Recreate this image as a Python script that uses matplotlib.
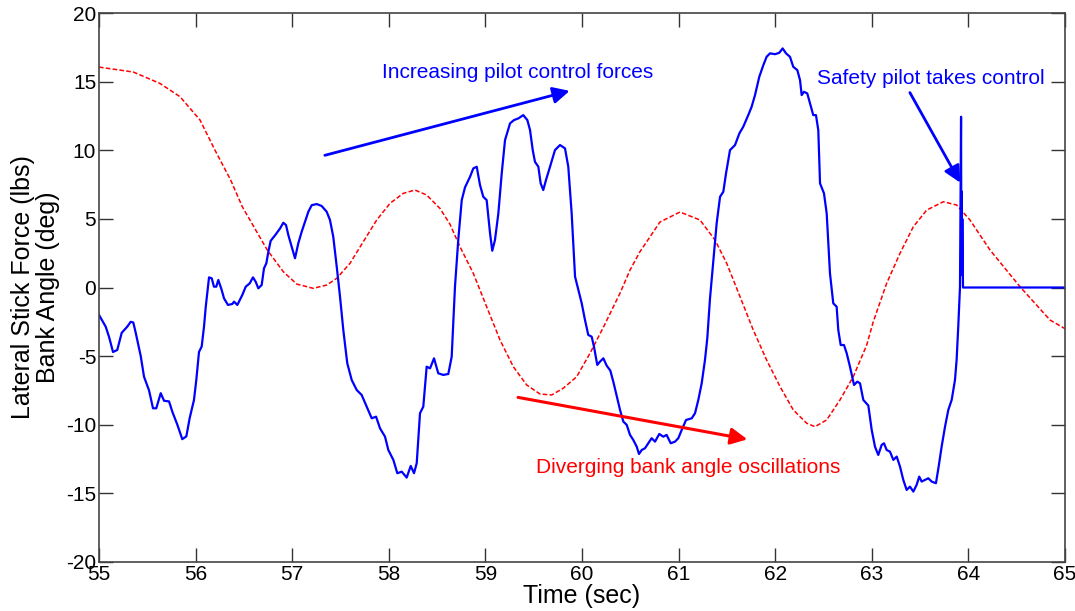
import numpy as np
import matplotlib.pyplot as plt

# ======================
# Data
# ======================
stick_t = [55.000, 55.069, 55.104, 55.145, 55.189, 55.235, 55.293, 55.328, 55.355, 55.380,
           55.432, 55.466, 55.518, 55.559, 55.593, 55.639, 55.673, 55.725, 55.759, 55.811,
           55.862, 55.904, 55.939, 55.983, 56.007, 56.035, 56.063, 56.087, 56.105, 56.139,
           56.167, 56.190, 56.214, 56.235, 56.270, 56.294, 56.335, 56.380, 56.398, 56.432,
           56.483, 56.519, 56.560, 56.594, 56.622, 56.649, 56.684, 56.708, 56.732, 56.753,
           56.777, 56.822, 56.874, 56.908, 56.936, 56.960, 56.995, 57.029, 57.063, 57.098,
           57.132, 57.167, 57.202, 57.254, 57.305, 57.357, 57.391, 57.425, 57.461, 57.495,
           57.529, 57.570, 57.616, 57.668, 57.719, 57.771, 57.823, 57.868, 57.909, 57.961,
           57.995, 58.047, 58.088, 58.134, 58.185, 58.227, 58.261, 58.289, 58.323, 58.357,
           58.392, 58.427, 58.468, 58.512, 58.564, 58.616, 58.651, 58.685, 58.719, 58.755,
           58.789, 58.841, 58.875, 58.910, 58.944, 58.978, 59.013, 59.048, 59.071, 59.099,
           59.134, 59.169, 59.203, 59.255, 59.296, 59.341, 59.392, 59.434, 59.462, 59.490,
           59.513, 59.548, 59.572, 59.599, 59.627, 59.669, 59.720, 59.772, 59.824, 59.858,
           59.893, 59.928, 59.962, 59.997, 60.031, 60.065, 60.100, 60.124, 60.158, 60.186,
           60.221, 60.256, 60.293, 60.324, 60.359, 60.393, 60.428, 60.463, 60.497, 60.531,
           60.566, 60.590, 60.618, 60.652, 60.686, 60.721, 60.756, 60.800, 60.841, 60.876,
           60.918, 60.963, 60.997, 61.032, 61.077, 61.136, 61.170, 61.204, 61.239, 61.273,
           61.297, 61.325, 61.359, 61.394, 61.429, 61.463, 61.491, 61.532, 61.584, 61.629,
           61.669, 61.721, 61.756, 61.791, 61.835, 61.877, 61.911, 61.946, 61.998, 62.042,
           62.077, 62.112, 62.153, 62.187, 62.229, 62.257, 62.274, 62.298, 62.332, 62.360,
           62.394, 62.422, 62.446, 62.464, 62.505, 62.533, 62.567, 62.601, 62.636, 62.653,
           62.678, 62.712, 62.740, 62.774, 62.816, 62.850, 62.878, 62.912, 62.964, 62.999,
           63.033, 63.067, 63.102, 63.126, 63.154, 63.188, 63.223, 63.258, 63.292, 63.326,
           63.361, 63.395, 63.430, 63.464, 63.491, 63.516, 63.551, 63.585, 63.620, 63.664,
           63.692, 63.723, 63.758, 63.792, 63.827, 63.861, 63.878, 63.895, 63.913, 63.924,
           63.927, 63.930, 63.934, 63.937, 63.944, 65.000]
stick_lbs = [-2.0, -2.85, -3.6, -4.7, -4.55, -3.3, -2.85, -2.5, -2.55, -3.3,
             -5.0, -6.5, -7.5, -8.8, -8.8, -7.7, -8.25, -8.3, -9.05, -10.0,
             -11.05, -10.85, -9.5, -8.2, -6.75, -4.7, -4.3, -2.85, -1.4, 0.74,
             0.67, 0.06, 0.06, 0.55, -0.18, -0.79, -1.27, -1.2, -1.03, -1.27,
             -0.55, 0.06, 0.3, 0.74, 0.42, -0.06, 0.18, 1.4, 1.76, 2.6,
             3.4, 3.8, 4.3, 4.72, 4.55, 3.82, 2.97, 2.13, 3.22, 4.06,
             4.79, 5.52, 6.0, 6.08, 5.94, 5.52, 4.92, 3.7, 1.51, -0.67,
             -3.1, -5.52, -6.74, -7.47, -7.83, -8.68, -9.53, -9.41, -10.26, -10.87,
             -11.84, -12.56, -13.53, -13.42, -13.85, -13.0, -13.53, -12.8, -9.16, -8.68,
             -5.77, -5.89, -5.16, -6.25, -6.37, -6.3, -5.04, 0.06, 3.46, 6.37,
             7.3, 8.07, 8.68, 8.8, 7.47, 6.61, 6.37, 3.95, 2.68, 3.46,
             5.4, 8.32, 10.74, 11.96, 12.2, 12.32, 12.56, 12.2, 11.47, 10.01,
             9.16, 8.8, 7.59, 7.1, 7.83, 8.8, 10.01, 10.38, 10.14, 8.8,
             5.4, 0.79, -0.18, -1.15, -2.37, -3.46, -3.58, -4.31, -5.64, -5.4,
             -5.16, -5.7, -6.05, -6.86, -7.9, -8.9, -9.77, -10.01, -10.74, -11.11,
             -11.59, -12.13, -11.84, -11.71, -11.35, -10.98, -11.23, -10.67, -10.87, -10.74,
             -11.35, -11.23, -10.98, -10.38, -9.65, -9.53, -9.16, -8.19, -6.98, -5.28,
             -3.7, -0.8, 1.9, 4.68, 6.61, 6.98, 8.32, 10.01, 10.38, 11.23,
             11.71, 12.56, 13.17, 14.02, 15.35, 16.2, 16.81, 17.06, 17.0, 17.1,
             17.42, 17.06, 16.81, 16.08, 15.84, 15.11, 14.02, 14.26, 14.14, 13.42,
             12.56, 12.56, 11.47, 7.59, 6.86, 5.4, 1.03, -1.15, -1.4, -3.1,
             -4.19, -4.19, -4.79, -5.77, -7.1, -6.86, -6.98, -8.19, -8.6, -10.38,
             -11.6, -12.2, -11.47, -11.35, -11.84, -11.96, -12.56, -12.32, -13.05, -14.02,
             -14.75, -14.51, -14.87, -14.38, -13.78, -14.14, -14.02, -13.9, -14.14, -14.26,
             -13.05, -11.59, -10.14, -8.92, -8.19, -6.74, -5.28, -2.85, 0.06, 12.44,
             1.0, 7.0, 0.9, 5.0, 0.0, 0.0]

bank_t = [55.000, 55.355, 55.631, 55.839, 56.046, 56.201, 56.363, 56.483, 56.622, 56.742,
          56.908, 57.047, 57.218, 57.357, 57.461, 57.598, 57.736, 57.875, 58.012, 58.150,
          58.271, 58.392, 58.530, 58.634, 58.737, 58.875, 59.013, 59.151, 59.289, 59.427,
          59.565, 59.686, 59.806, 59.945, 60.083, 60.221, 60.393, 60.497, 60.600, 60.807,
          61.014, 61.221, 61.377, 61.498, 61.636, 61.773, 61.911, 62.050, 62.187, 62.326,
          62.412, 62.533, 62.671, 62.808, 62.947, 63.015, 63.154, 63.292, 63.430, 63.568,
          63.740, 63.878, 64.016, 64.224, 64.534, 64.845, 65.000]
bank_deg = [16.06, 15.7, 14.87, 13.9, 12.2, 10.0, 7.83, 5.89, 4.19, 2.73,
            1.15, 0.25, -0.06, 0.18, 0.67, 1.76, 3.34, 4.92, 6.13, 6.86,
            7.1, 6.74, 5.76, 4.6, 2.97, 1.03, -1.4, -3.82, -5.77, -7.1,
            -7.76, -7.83, -7.34, -6.5, -4.79, -2.9, -0.42, 1.27, 2.61, 4.77,
            5.5, 4.92, 3.46, 1.76, -0.67, -3.1, -5.28, -7.22, -8.92, -9.89,
            -10.14, -9.65, -8.19, -6.5, -4.2, -2.5, 0.31, 2.49, 4.43, 5.64,
            6.25, 6.01, 4.92, 2.73, 0.06, -2.37, -3.0]

x_ticks = [55, 56, 57, 58, 59, 60, 61, 62, 63, 64, 65]
y_ticks = [-20, -15, -10, -5, 0, 5, 10, 15, 20]

# ======================
# Plot
# ======================
plt.rcParams['font.family'] = ['Liberation Sans', 'DejaVu Sans']
plt.rcParams['axes.unicode_minus'] = False

fig = plt.figure(figsize=(10.75, 6.11), dpi=100)
ax = fig.add_axes([0.0921, 0.0802, 0.8986, 0.8985])

ax.plot(bank_t, bank_deg, color='red', linewidth=1.1, linestyle=(0, (3, 1.5)))
ax.plot(stick_t, stick_lbs, color='#0000ff', linewidth=1.6)

ax.set_xlim(55, 65)
ax.set_ylim(-20, 20)
ax.set_xticks(x_ticks)
ax.set_yticks(y_ticks)
ax.tick_params(direction='in', length=10, width=1, top=True, right=True,
               labelsize=15, color='#333333')
ax.tick_params(axis='x', pad=2)
ax.tick_params(axis='y', pad=2)
for s in ax.spines.values():
    s.set_color('#444444')
    s.set_linewidth(1.2)

ax.set_xlabel('Time (sec)', fontsize=18, labelpad=0)
ax.set_ylabel('Lateral Stick Force (lbs)\nBank Angle (deg)', fontsize=18,
              labelpad=4, linespacing=1.1)

# Annotations
ax.annotate('', xy=(59.90, 14.38), xytext=(57.31, 9.58),
            arrowprops=dict(arrowstyle='-|>', color='#0000ff', lw=2, mutation_scale=25))
ax.text(59.33, 15.7, 'Increasing pilot control forces', color='#0000ff',
        fontsize=15, ha='center', va='center')

ax.annotate('', xy=(61.74, -11.1), xytext=(59.31, -7.97),
            arrowprops=dict(arrowstyle='-|>', color='red', lw=2.2, mutation_scale=25))
ax.text(61.10, -13.1, 'Diverging bank angle oscillations', color='red',
        fontsize=15, ha='center', va='center')

ax.annotate('', xy=(63.93, 7.46), xytext=(63.38, 14.38),
            arrowprops=dict(arrowstyle='-|>', color='#0000ff', lw=2, mutation_scale=25))
ax.text(63.61, 15.26, 'Safety pilot takes control', color='#0000ff',
        fontsize=15, ha='center', va='center')

plt.savefig('out.png', dpi=100)
